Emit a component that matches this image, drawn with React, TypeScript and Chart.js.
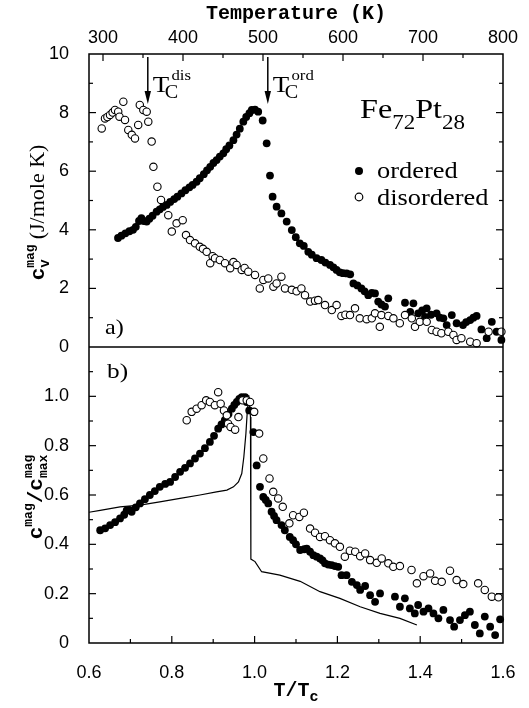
import React, { useEffect, useRef } from 'react';
import { Chart, registerables } from 'chart.js';

Chart.register(...registerables);

// ---------- Panel a) : c_v^mag (J/mole K) versus temperature (K) ----------
const orderedT = [318.75, 323, 328, 333, 337.5, 341, 345, 348, 351, 354.6, 358, 362, 367, 371, 375, 379.6, 384, 389, 393, 398, 403, 408, 412, 417, 421, 426, 430, 434, 438, 442, 446, 450.4, 454, 458, 463, 467, 471, 475.4, 479, 483, 486, 490, 494, 499.6, 504.6, 508.75, 512, 517, 523, 529.6, 536, 541, 546, 551, 556.6, 561, 567, 573, 578, 583.75, 588, 592, 596, 600, 604.6, 609, 613, 618, 623, 627, 631.6, 636, 640, 644, 648, 652.5, 656.6, 677.5, 684, 688, 694, 699, 702.5, 704.6, 710, 717, 721, 725.5, 729.6, 736, 742, 750, 754, 759, 763, 767, 773, 779.6, 786, 792, 798];
const orderedCv = [3.72, 3.8, 3.88, 3.95, 4.0, 4.1, 4.3, 4.4, 4.3, 4.28, 4.38, 4.48, 4.62, 4.7, 4.78, 4.85, 4.95, 5.05, 5.13, 5.24, 5.35, 5.45, 5.53, 5.64, 5.76, 5.9, 6.03, 6.15, 6.28, 6.38, 6.5, 6.61, 6.75, 6.88, 7.06, 7.25, 7.45, 7.69, 7.85, 7.98, 8.09, 8.1, 8.03, 7.73, 6.95, 5.85, 5.13, 4.79, 4.56, 4.28, 3.99, 3.75, 3.54, 3.45, 3.25, 3.15, 3.03, 2.97, 2.88, 2.8, 2.72, 2.63, 2.55, 2.52, 2.51, 2.48, 2.17, 2.1, 2.0, 1.9, 1.77, 1.85, 1.83, 1.55, 1.45, 1.38, 1.66, 1.51, 1.2, 1.49, 1.15, 1.25, 1.03, 1.32, 1.1, 1.15, 1.0, 0.98, 0.75, 1.09, 0.81, 0.75, 0.85, 0.92, 1.0, 1.06, 0.6, 0.3, 0.86, 0.52, 0.24];

const disorderedT = [298.4, 302.5, 305.5, 308.75, 312, 315, 319, 320.6, 325.4, 327.5, 331.6, 336, 340, 344, 346, 350.4, 354.6, 356.6, 360.8, 363, 368, 372.5, 381.6, 386, 392, 399.6, 403.75, 408.75, 415, 421, 425, 429.6, 434, 437, 440, 446, 452.5, 459, 463, 467, 473.4, 477, 481.6, 490, 496, 500.4, 506.6, 513, 517, 523, 527.5, 536, 542, 548, 552.5, 559, 565, 569, 577.5, 586, 592, 598, 603, 608.75, 615, 621, 629.6, 636, 640, 646, 648, 656.6, 663, 671, 677.5, 686, 690, 696, 704.6, 711, 717, 723, 731.6, 738, 742, 748, 759, 767, 782, 798];
const disorderedCv = [7.46, 7.8, 7.85, 7.92, 8.0, 8.09, 8.03, 7.86, 8.37, 7.75, 7.41, 7.24, 7.12, 7.58, 8.26, 8.09, 8.03, 7.69, 7.01, 6.15, 5.47, 5.02, 4.5, 3.94, 4.22, 4.33, 3.82, 3.65, 3.54, 3.42, 3.35, 3.25, 2.86, 3.1, 3.03, 2.97, 2.86, 2.69, 2.9, 2.8, 2.63, 2.7, 2.57, 2.46, 2.0, 2.29, 2.34, 2.06, 2.17, 2.4, 2.0, 1.95, 1.9, 2.0, 1.77, 1.55, 1.58, 1.6, 1.43, 1.26, 1.43, 1.06, 1.1, 1.09, 1.32, 0.98, 0.95, 0.98, 1.15, 0.69, 1.09, 1.06, 0.98, 0.81, 1.09, 0.98, 0.69, 0.86, 0.86, 0.58, 0.52, 0.47, 0.52, 0.41, 0.24, 0.3, 0.18, 0.13, 0.52, 0.52];

// ---------- Panel b) : c^mag / c_max^mag versus T / T_C ----------
const orderedRatio = [0.627, 0.639, 0.651, 0.663, 0.675, 0.685, 0.691, 0.697, 0.703, 0.713, 0.723, 0.735, 0.747, 0.759, 0.771, 0.784, 0.796, 0.808, 0.82, 0.832, 0.844, 0.856, 0.868, 0.88, 0.892, 0.902, 0.912, 0.92, 0.928, 0.937, 0.945, 0.951, 0.957, 0.963, 0.969, 0.977, 0.981, 0.987, 0.997, 1.005, 1.013, 1.021, 1.027, 1.033, 1.041, 1.047, 1.053, 1.065, 1.073, 1.085, 1.093, 1.1, 1.11, 1.12, 1.126, 1.134, 1.142, 1.15, 1.158, 1.164, 1.17, 1.178, 1.186, 1.194, 1.202, 1.21, 1.222, 1.235, 1.247, 1.255, 1.267, 1.279, 1.291, 1.303, 1.339, 1.351, 1.363, 1.375, 1.387, 1.395, 1.408, 1.42, 1.432, 1.444, 1.456, 1.472, 1.482, 1.496, 1.508, 1.52, 1.532, 1.544, 1.556, 1.569, 1.581, 1.593];
const orderedNorm = [0.457, 0.465, 0.478, 0.49, 0.505, 0.52, 0.538, 0.54, 0.532, 0.55, 0.566, 0.583, 0.6, 0.616, 0.633, 0.645, 0.653, 0.673, 0.694, 0.71, 0.728, 0.748, 0.768, 0.79, 0.815, 0.84, 0.869, 0.886, 0.903, 0.928, 0.95, 0.965, 0.977, 0.99, 0.997, 0.997, 0.977, 0.943, 0.855, 0.72, 0.633, 0.592, 0.58, 0.566, 0.532, 0.515, 0.498, 0.478, 0.457, 0.43, 0.417, 0.4, 0.377, 0.38, 0.383, 0.37, 0.356, 0.35, 0.343, 0.335, 0.323, 0.318, 0.316, 0.312, 0.309, 0.275, 0.275, 0.248, 0.235, 0.215, 0.231, 0.194, 0.167, 0.201, 0.188, 0.147, 0.181, 0.14, 0.12, 0.154, 0.127, 0.14, 0.12, 0.1, 0.134, 0.093, 0.066, 0.093, 0.113, 0.127, 0.073, 0.039, 0.107, 0.066, 0.032, 0.096];

const disorderedRatio = [0.836, 0.848, 0.86, 0.872, 0.883, 0.892, 0.904, 0.912, 0.918, 0.926, 0.933, 0.936, 0.942, 0.953, 0.961, 0.971, 0.981, 0.989, 0.999, 1.011, 1.021, 1.036, 1.045, 1.057, 1.068, 1.084, 1.093, 1.108, 1.119, 1.134, 1.146, 1.158, 1.17, 1.182, 1.194, 1.206, 1.218, 1.23, 1.243, 1.255, 1.267, 1.279, 1.295, 1.307, 1.323, 1.335, 1.351, 1.379, 1.392, 1.408, 1.424, 1.436, 1.452, 1.472, 1.488, 1.504, 1.54, 1.556, 1.573, 1.589];
const disorderedNorm = [0.903, 0.937, 0.95, 0.964, 0.984, 0.977, 0.964, 1.017, 0.97, 0.943, 0.923, 0.889, 0.876, 0.865, 0.916, 0.984, 0.984, 0.977, 0.937, 0.849, 0.748, 0.667, 0.613, 0.586, 0.552, 0.485, 0.518, 0.511, 0.528, 0.464, 0.447, 0.43, 0.433, 0.417, 0.404, 0.39, 0.35, 0.374, 0.37, 0.352, 0.363, 0.336, 0.325, 0.343, 0.323, 0.309, 0.312, 0.296, 0.242, 0.271, 0.282, 0.252, 0.248, 0.293, 0.255, 0.239, 0.242, 0.215, 0.188, 0.185];

const modelRatio = [0.6, 0.627, 0.675, 0.723, 0.771, 0.82, 0.868, 0.908, 0.933, 0.949, 0.961, 0.969, 0.974, 0.979, 0.982, 0.986, 0.99, 0.991, 1.001, 1.017, 1.061, 1.11, 1.158, 1.206, 1.255, 1.303, 1.351, 1.392];
const modelNorm = [0.53, 0.538, 0.552, 0.559, 0.572, 0.586, 0.6, 0.613, 0.62, 0.633, 0.653, 0.687, 0.754, 0.849, 0.93, 1.004, 0.916, 0.34, 0.33, 0.289, 0.275, 0.25, 0.208, 0.181, 0.147, 0.12, 0.1, 0.073];

// ---------- Axes / ticks ----------
const tempRange = [282.5, 800];
const tempTicks = [300, 400, 500, 600, 700, 800];
const tempMinorTicks = [350, 450, 550, 650, 750];
const cvRange = [0, 10];
const cvTicks = [0, 2, 4, 6, 8, 10];
const cvMinorTicks = [1, 3, 5, 7, 9];
const ratioRange = [0.6, 1.6];
const ratioTicks = [0.6, 0.8, 1.0, 1.2, 1.4, 1.6];
const ratioMinorTicks = [0.7, 0.9, 1.1, 1.3, 1.5];
const normRange = [0, 1.2];
const normTicks = [0, 0.2, 0.4, 0.6, 0.8, 1.0];
const normMinorTicks = [0.1, 0.3, 0.5, 0.7, 0.9, 1.1];

const TC_DIS = 356;
const TC_ORD = 506;

const SANS = '"Liberation Sans", Arial, sans-serif';
const SERIF = '"Liberation Serif", "Times New Roman", serif';
const MONO = '"Liberation Mono", "Courier New", monospace';

type Piece = { t: string; font: string; dy?: number; dx?: number };
type Run = Piece | { stack: Piece[] } | { space: number };

function runsWidth(ctx: CanvasRenderingContext2D, runs: Run[]) {
  let w = 0;
  for (const r of runs as any[]) {
    if ('space' in r) w += r.space;
    else if ('stack' in r) {
      let m = 0;
      for (const s of r.stack) { ctx.font = s.font; m = Math.max(m, ctx.measureText(s.t).width + (s.dx || 0)); }
      w += m;
    } else { ctx.font = r.font; w += ctx.measureText(r.t).width; }
  }
  return w;
}

function drawRuns(ctx: CanvasRenderingContext2D, runs: Run[], x: number, y: number, opts: { stretch?: number; align?: 'left' | 'center'; rotate?: boolean } = {}) {
  const stretch = opts.stretch || 1;
  ctx.save();
  ctx.textAlign = 'left';
  ctx.textBaseline = 'alphabetic';
  ctx.fillStyle = '#000';
  ctx.translate(x, y);
  if (opts.rotate) ctx.rotate(-Math.PI / 2);
  ctx.scale(stretch, 1);
  let cx = 0;
  if (opts.align === 'center') cx = -runsWidth(ctx, runs) / 2;
  for (const r of runs as any[]) {
    if ('space' in r) cx += r.space;
    else if ('stack' in r) {
      let m = 0;
      for (const s of r.stack) {
        ctx.font = s.font;
        ctx.fillText(s.t, cx + (s.dx || 0), s.dy || 0);
        m = Math.max(m, ctx.measureText(s.t).width + (s.dx || 0));
      }
      cx += m;
    } else {
      ctx.font = r.font;
      ctx.fillText(r.t, cx, r.dy || 0);
      cx += ctx.measureText(r.t).width;
    }
  }
  ctx.restore();
}

const decorPlugin = {
  id: 'decor',
  afterDraw(chart: any) {
    const ctx: CanvasRenderingContext2D = chart.ctx;
    const { xTop, xBot, yTop, yBot } = chart.scales;
    const a = chart.chartArea;
    const L = a.left, R = a.right, T = a.top, B = a.bottom;
    const mid = yTop.getPixelForValue(0);
    ctx.save();
    ctx.strokeStyle = '#000';
    ctx.lineWidth = 1.5;
    ctx.strokeRect(L, T, R - L, B - T);
    ctx.lineWidth = 1.3;
    ctx.beginPath(); ctx.moveTo(L, mid); ctx.lineTo(R, mid); ctx.stroke();

    const MAJ = 7, MIN = 4;
    const seg = (x1: number, y1: number, x2: number, y2: number) => { ctx.beginPath(); ctx.moveTo(x1, y1); ctx.lineTo(x2, y2); ctx.stroke(); };
    ctx.lineWidth = 1.2;
    const xt = (scale: any, vals: number[], len: number, y0: number, dir: number, lo: number, hi: number) => {
      for (const v of vals) { if (v <= lo || v >= hi) continue; const x = scale.getPixelForValue(v); seg(x, y0, x, y0 + dir * len); }
    };
    const yt = (scale: any, vals: number[], len: number, lo: number, hi: number) => {
      for (const v of vals) { if (v <= lo || v >= hi) continue; const y = scale.getPixelForValue(v); seg(L, y, L + len, y); seg(R, y, R - len, y); }
    };
    xt(xTop, tempTicks, MAJ, T, 1, tempRange[0], tempRange[1]);
    xt(xTop, tempMinorTicks, MIN, T, 1, tempRange[0], tempRange[1]);
    xt(xBot, ratioTicks, MAJ, B, -1, ratioRange[0], ratioRange[1]);
    xt(xBot, ratioMinorTicks, MIN, B, -1, ratioRange[0], ratioRange[1]);
    yt(yTop, cvTicks, MAJ, cvRange[0], cvRange[1]);
    yt(yTop, cvMinorTicks, MIN, cvRange[0], cvRange[1]);
    yt(yBot, normTicks, MAJ, normRange[0], normRange[1]);
    yt(yBot, normMinorTicks, MIN, normRange[0], normRange[1]);

    // Tc arrows
    const arrow = (tc: number) => {
      const x = xTop.getPixelForValue(tc);
      const y0 = T + 3, y1 = T + 50;
      ctx.lineWidth = 1.5;
      seg(x, y0, x, y1 - 8);
      ctx.beginPath();
      ctx.moveTo(x - 3.2, y1 - 13);
      ctx.lineTo(x + 3.2, y1 - 13);
      ctx.lineTo(x, y1);
      ctx.closePath();
      ctx.fillStyle = '#000';
      ctx.fill();
      return x;
    };
    const xd = arrow(TC_DIS);
    const xo = arrow(TC_ORD);
    const tcLabel = (x: number, sup: string) => {
      drawRuns(ctx, [
        { t: 'T', font: `24px ${SERIF}` },
        { stack: [ { t: sup, font: `15px ${SERIF}`, dy: -12, dx: 2 }, { t: 'C', font: `18px ${SERIF}`, dy: 6, dx: -4 } ] },
      ], x + 5, T + 38, { stretch: 1.12 });
    };
    tcLabel(xd, 'dis');
    tcLabel(xo, 'ord');

    // Compound label
    drawRuns(ctx, [
      { t: 'Fe', font: `28px ${SERIF}` },
      { t: '72', font: `20px ${SERIF}`, dy: 11 },
      { t: 'Pt', font: `28px ${SERIF}` },
      { t: '28', font: `20px ${SERIF}`, dy: 11 },
    ], 360, T + 64, { stretch: 1.15 });

    // Legend
    ctx.fillStyle = '#000';
    ctx.beginPath(); ctx.arc(359, T + 117, 4, 0, Math.PI * 2); ctx.fill();
    ctx.fillStyle = '#fff'; ctx.lineWidth = 1.2;
    ctx.beginPath(); ctx.arc(359, T + 143, 3.8, 0, Math.PI * 2); ctx.fill(); ctx.stroke();
    drawRuns(ctx, [{ t: 'ordered', font: `24px ${SERIF}` }], 377, T + 124, { stretch: 1.1 });
    drawRuns(ctx, [{ t: 'disordered', font: `24px ${SERIF}` }], 377, T + 151, { stretch: 1.1 });

    // Panel letters
    drawRuns(ctx, [{ t: 'a)', font: `21px ${SERIF}` }], L + 16, mid - 13, { stretch: 1.15 });
    drawRuns(ctx, [{ t: 'b)', font: `22px ${SERIF}` }], L + 18, mid + 31, { stretch: 1.15 });

    // Axis titles
    const cx = (L + R) / 2;
    drawRuns(ctx, [{ t: 'Temperature (K)', font: `bold 20px ${MONO}` }], cx, 19, { align: 'center' });
    drawRuns(ctx, [
      { t: 'T/T', font: `bold 20px ${MONO}` },
      { t: 'c', font: `bold 15px ${MONO}`, dy: 5 },
    ], cx, B + 53, { align: 'center' });

    drawRuns(ctx, [
      { t: 'c', font: `bold 21px ${MONO}` },
      { stack: [ { t: 'mag', font: `bold 13px ${MONO}`, dy: -10 }, { t: 'v', font: `bold 14px ${MONO}`, dy: 5 } ] },
      { space: 5 },
      { t: '(J/mole K)', font: `22px ${SERIF}` },
    ], 44, (T + mid) / 2 + 12, { rotate: true, align: 'center' });

    drawRuns(ctx, [
      { t: 'c', font: `bold 21px ${MONO}` },
      { t: 'mag', font: `bold 13px ${MONO}`, dy: -10 },
      { t: '/', font: `bold 21px ${MONO}` },
      { t: 'c', font: `bold 21px ${MONO}` },
      { stack: [ { t: 'mag', font: `bold 13px ${MONO}`, dy: -10 }, { t: 'max', font: `bold 13px ${MONO}`, dy: 5 } ] },
    ], 42, (mid + B) / 2 + 2, { rotate: true, align: 'center' });

    ctx.restore();
  },
};

const fmt1 = (v: number) => (Math.abs(v) < 1e-9 ? '0' : v.toFixed(1));

export default function App() {
  const ref = useRef<HTMLCanvasElement | null>(null);
  useEffect(() => {
    if (!ref.current) return;
    const pts = (xs: number[], ys: number[]) => xs.map((x, i) => ({ x, y: ys[i] }));
    const setTicks = (vals: number[]) => (s: any) => { s.ticks = vals.map((v) => ({ value: v })); };
    const tickFont = { family: SANS, size: 18 };
    const chart = new Chart(ref.current, {
      type: 'scatter',
      data: {
        datasets: [
          { label: 'disordered (a)', data: pts(disorderedT, disorderedCv), xAxisID: 'xTop', yAxisID: 'yTop', pointRadius: 3.7, pointBackgroundColor: '#fff', pointBorderColor: '#000', pointBorderWidth: 1.1, order: 0, clip: false } as any,
          { label: 'ordered (a)', data: pts(orderedT, orderedCv), xAxisID: 'xTop', yAxisID: 'yTop', pointRadius: 3.9, pointBackgroundColor: '#000', pointBorderColor: '#000', pointBorderWidth: 0, order: 1, clip: false } as any,
          { label: 'disordered (b)', data: pts(disorderedRatio, disorderedNorm), xAxisID: 'xBot', yAxisID: 'yBot', pointRadius: 3.7, pointBackgroundColor: '#fff', pointBorderColor: '#000', pointBorderWidth: 1.1, order: 0, clip: false } as any,
          { label: 'ordered (b)', data: pts(orderedRatio, orderedNorm), xAxisID: 'xBot', yAxisID: 'yBot', pointRadius: 3.9, pointBackgroundColor: '#000', pointBorderColor: '#000', pointBorderWidth: 0, order: 1, clip: false } as any,
          { label: 'model (b)', data: pts(modelRatio, modelNorm), xAxisID: 'xBot', yAxisID: 'yBot', showLine: true, pointRadius: 0, borderColor: '#000', borderWidth: 1.2, tension: 0, order: 2 } as any,
        ],
      },
      options: {
        animation: false,
        responsive: false,
        devicePixelRatio: 1,
        events: [],
        layout: { padding: { left: 0, right: 26, top: 0, bottom: 0 }, autoPadding: false },
        plugins: { legend: { display: false }, tooltip: { enabled: false } },
        scales: {
          xTop: {
            type: 'linear', position: 'top', min: tempRange[0], max: tempRange[1],
            grid: { display: false }, border: { display: false },
            afterBuildTicks: setTicks(tempTicks),
            afterFit: (s: any) => { s.height = 54; },
            ticks: { font: tickFont, color: '#000', padding: -3, autoSkip: false, maxRotation: 0, callback: (v: any) => String(Math.round(v)) },
          },
          xBot: {
            type: 'linear', position: 'bottom', min: ratioRange[0], max: ratioRange[1],
            grid: { display: false }, border: { display: false },
            afterBuildTicks: setTicks(ratioTicks),
            afterFit: (s: any) => { s.height = 65; },
            ticks: { font: tickFont, color: '#000', padding: 11, autoSkip: false, maxRotation: 0, callback: (v: any) => fmt1(Number(v)) },
          },
          yTop: {
            type: 'linear', position: 'left', min: cvRange[0], max: cvRange[1],
            stack: 'panels', stackWeight: 293, weight: 1,
            grid: { display: false }, border: { display: false },
            afterBuildTicks: setTicks(cvTicks),
            afterFit: (s: any) => { s.width = 89; },
            ticks: { font: tickFont, color: '#000', padding: 12, autoSkip: false, callback: (v: any) => String(Math.round(v)) },
          },
          yBot: {
            type: 'linear', position: 'left', min: normRange[0], max: normRange[1],
            stack: 'panels', stackWeight: 296, weight: 0,
            grid: { display: false }, border: { display: false },
            afterBuildTicks: setTicks(normTicks),
            afterFit: (s: any) => { s.width = 89; },
            ticks: { font: tickFont, color: '#000', padding: 12, autoSkip: false, callback: (v: any) => fmt1(Number(v)) },
          },
        } as any,
      },
      plugins: [decorPlugin],
    } as any);
    return () => chart.destroy();
  }, []);
  return (
    <div style={{ position: 'absolute', left: 0, top: 0, width: 529, height: 708, background: '#fff' }}>
      <canvas ref={ref} width={529} height={708} style={{ display: 'block' }} />
    </div>
  );
}
